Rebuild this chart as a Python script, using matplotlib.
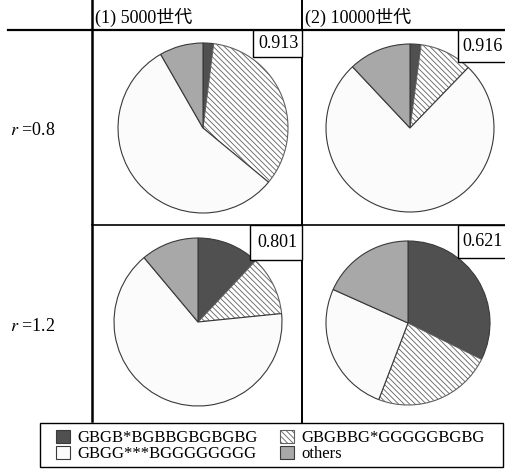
import matplotlib.pyplot as plt
from matplotlib.patches import Rectangle

# sequence classes (wedge order, clockwise from 12 o'clock)
classes = ['GBGB*BGBBGBGBGBG', 'GBGBBG*GGGGGBGBG', 'GBGG***BGGGGGGGG', 'others']
col_titles = ['(1) 5000世代', '(2) 10000世代']
row_titles = ['0.8', '1.2']

# shares per cell
share_08_5000 = [0.020, 0.340, 0.557, 0.083]
share_08_10000 = [0.021, 0.101, 0.758, 0.120]
share_12_5000 = [0.120, 0.114, 0.655, 0.111]
share_12_10000 = [0.323, 0.235, 0.259, 0.183]
fitness = ['0.913', '0.916', '0.801', '0.621']

W, H = 506, 469
plt.rcParams['font.family'] = ['Liberation Serif', 'Noto Sans CJK JP']
plt.rcParams['mathtext.fontset'] = 'stix'
plt.rcParams['hatch.linewidth'] = 0.6

fig = plt.figure(figsize=(W / 100, H / 100), dpi=100)
ax = fig.add_axes([0, 0, 1, 1])


def py(y):
    # pixel row (from top) -> data y
    return H - y


# pies: center x, center y (px from top), radius
cells = [(share_08_5000, 203, 128, 85),
         (share_08_10000, 410, 128, 84),
         (share_12_5000, 198, 322, 84),
         (share_12_10000, 408, 323, 82)]
faces = ['#505050', 'white', '#fbfbfb', '#a8a8a8']
hatches = [None, '\\\\\\\\\\\\', None, None]

wedges = None
for vals, cx, cy, r in cells:
    w, _ = ax.pie(vals, center=(cx, py(cy)), radius=r, startangle=90,
                  counterclock=False, colors=faces,
                  wedgeprops=dict(edgecolor='#3a3a3a', linewidth=0.8))
    for wedge, h in zip(w, hatches):
        if h:
            wedge.set_hatch(h)
            wedge.set_edgecolor('#606060')
    if wedges is None:
        wedges = w

ax.set_xlim(0, W)
ax.set_ylim(0, H)
ax.set_aspect('auto')
ax.axis('off')

# table rules
ax.plot([8, W], [py(30), py(30)], color='black', lw=1.6)
ax.plot([92, 92], [py(0), py(421)], color='black', lw=1.8)
ax.plot([302, 302], [py(0), py(423)], color='black', lw=1.4)
ax.plot([92, W], [py(225), py(225)], color='black', lw=1.2)

# column and row titles
ax.text(95, py(17), col_titles[0], fontsize=13, va='center', ha='left')
ax.text(305, py(17), col_titles[1], fontsize=13, va='center', ha='left')
for label, y in zip(row_titles, [130, 326]):
    ax.text(10, py(y), '$r$ =' + label, fontsize=13, va='center', ha='left')

# fitness boxes in the top-right corner of each cell
boxes = [(253, 30, 302, 57), (458, 30, 506, 62),
         (250, 225, 302, 260), (458, 225, 506, 258)]
for txt, (x0, y0, x1, y1) in zip(fitness, boxes):
    ax.add_patch(Rectangle((x0, py(y1)), x1 - x0, y1 - y0, facecolor='white',
                           edgecolor='black', lw=1.0, zorder=5))
    ax.text((x0 + x1) / 2 + 1, py((y0 + y1) / 2), txt, fontsize=13,
            ha='center', va='center', zorder=6)

# legend frame and entries (row-major order as in the original)
ax.add_patch(Rectangle((40, py(467)), 463, 44, facecolor='white',
                       edgecolor='black', lw=1.0))
handles = [wedges[0], wedges[2], wedges[1], wedges[3]]
names = [classes[0], classes[2], classes[1], classes[3]]
leg = ax.legend(handles, names, ncol=2, loc='center left',
                bbox_to_anchor=(56 / W, py(446) / H),
                fontsize=12, frameon=False, handlelength=0.85,
                handleheight=0.85, handletextpad=0.45, columnspacing=1.3,
                labelspacing=0.0, borderpad=0.0, borderaxespad=0)

fig.savefig('out.png', dpi=100)
